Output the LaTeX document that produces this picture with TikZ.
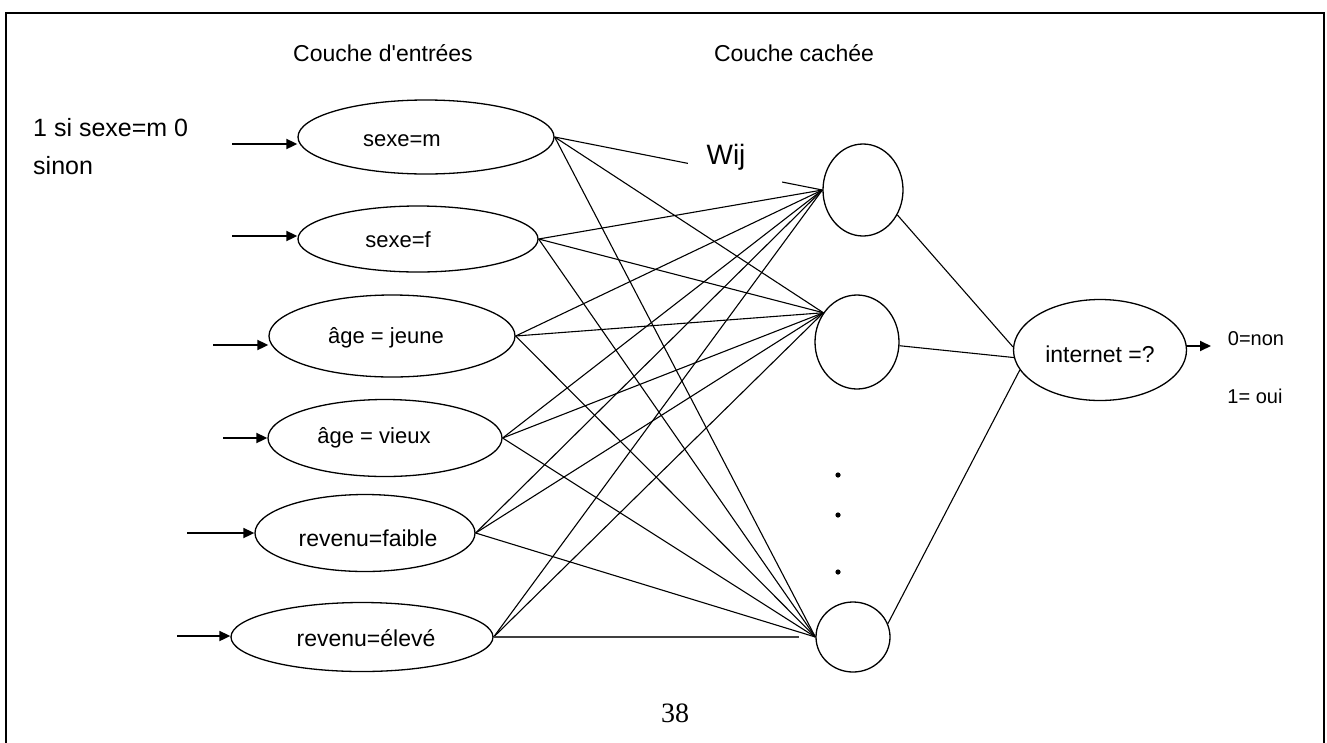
\documentclass[tikz,border=0pt]{standalone}
\usepackage{fontspec}
\setmainfont{Liberation Sans}[Ligatures=TeXOff]
\newfontfamily\pagenumfont{Liberation Serif}
\usetikzlibrary{shapes.geometric,arrows.meta}
\begin{document}
\begin{tikzpicture}[x=1pt,y=-1pt,
  unit/.style={draw, ellipse, line width=1.3pt, inner sep=0pt},
  link/.style={line width=1.1pt},
  feed/.style={line width=1.8pt, -{Triangle[length=11pt,width=10pt]}},
  lab/.style={font=\fontsize{22}{26}\selectfont, anchor=base, inner sep=0pt},
  title/.style={font=\fontsize{23}{28}\selectfont, inner sep=0pt},
  note/.style={font=\fontsize{25}{30}\selectfont, inner sep=0pt, anchor=west},
  wbox/.style={fill=white, inner sep=0pt, minimum width=94pt, minimum height=62pt}]
\useasboundingbox (0,0) rectangle (1327,742);

% page frame (open at the bottom)
\draw[line width=1.8pt] (6,760) -- (6,13) -- (1324,13) -- (1324,760);

% layer titles and the input note
\node[title] (tin) at (383,53) {Couche d'entrées};
\node[title] (thid) at (794,53) {Couche cachée};
\node[note] (note1) at (33,128) {1 si sexe=m 0};
\node[note] (note2) at (33,166) {sinon};

% input layer
\node[unit, minimum width=256pt, minimum height=74pt] (in1) at (426,137) {};
\node[unit, minimum width=240pt, minimum height=66pt] (in2) at (418,239) {};
\node[unit, minimum width=246pt, minimum height=82pt] (in3) at (392,336) {};
\node[unit, minimum width=234pt, minimum height=77pt] (in4) at (385,438) {};
\node[unit, minimum width=220pt, minimum height=77pt] (in5) at (365,533) {};
\node[unit, minimum width=262pt, minimum height=69pt] (in6) at (362,637) {};
\node[lab] (t1) at (402,146) {sexe=m};
\node[lab] (t2) at (398,247) {sexe=f};
\node[lab] (t3) at (386,343) {âge = jeune};
\node[lab] (t4) at (374,443) {âge = vieux};
\node[lab, font=\fontsize{23}{27}\selectfont] (t5) at (368,546) {revenu=faible};
\node[lab, font=\fontsize{23}{27}\selectfont] (t6) at (366,646) {revenu=élevé};

% hidden layer
\node[unit, minimum width=80pt, minimum height=92pt] (h1) at (863,190) {};
\node[unit, minimum width=84pt, minimum height=94pt] (h2) at (857,342) {};
\node[unit, minimum width=74pt, minimum height=70pt] (h3) at (853,637) {};
\fill (838,475) circle (2.6pt);
\fill (838,515) circle (2.6pt);
\fill (838,572) circle (2.6pt);

% output unit
\node[unit, minimum width=173pt, minimum height=101pt] (out) at (1100,350) {};
\node[lab, font=\fontsize{23}{28}\selectfont] (tout) at (1100,362) {internet =?};
\node[lab, font=\fontsize{20}{24}\selectfont] (res0) at (1256,345) {0=non};
\node[lab, font=\fontsize{20}{24}\selectfont] (res1) at (1255,403) {1= oui};

% input signals
\coordinate (s1) at (232,144);
\coordinate (s2) at (232,236);
\coordinate (s3) at (213,345);
\coordinate (s4) at (223,438);
\coordinate (s5) at (187,533);
\coordinate (s6) at (177,636);
\foreach \i in {1,...,6} \draw[feed] (s\i) -- (s\i -| in\i.west);

% weights between input and hidden layers
\foreach \i in {1,...,6} {
  \draw[link] (in\i.east) -- (h1.west);
  \draw[link] (in\i.east) -- (h2.139);
}
\foreach \i in {1,...,5} \draw[link] (in\i.east) -- (h3.west);
\draw[link, black!75, shorten >=16pt] (in6.east) -- (h3.west);

% hidden to output
\draw[link] (h1.-36) -- (out.178);
\draw[link] (h2.-5) -- (out.185);
\draw[link] (h3.21) -- (out.194);

% output signal
\coordinate (oend) at (1211,346);
\draw[feed] (oend -| out.east) -- (oend);

% weight label on a white patch
\node[wbox] (wij) at (735,160) {};
\node[lab, font=\fontsize{28}{32}\selectfont] (wijt) at (726,164) {Wij};

% page number
\node[font=\pagenumfont\fontsize{28}{32}\selectfont] (pg) at (675,713) {38};
\end{tikzpicture}
\end{document}
